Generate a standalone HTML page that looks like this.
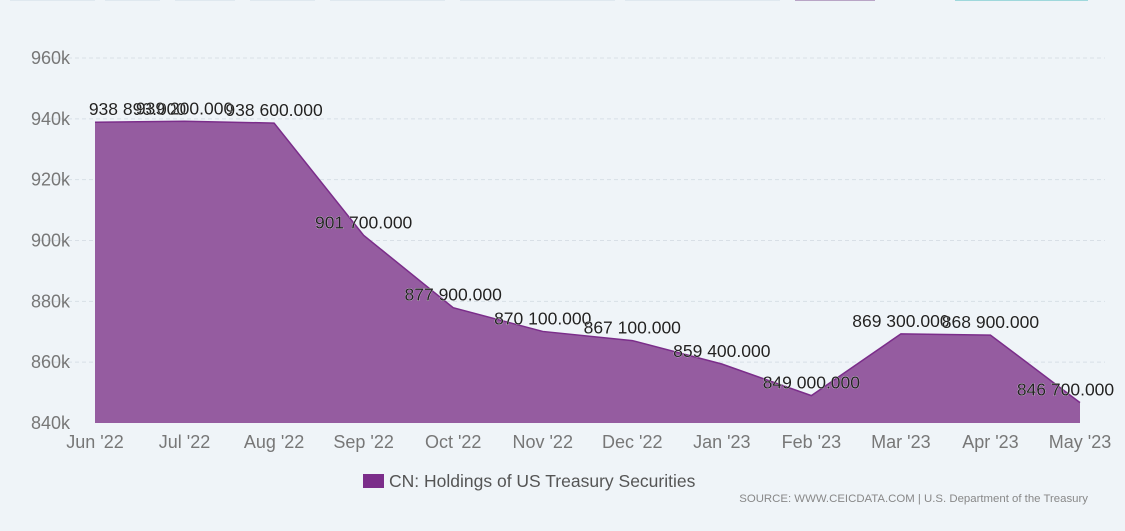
<!DOCTYPE html>
<html><head><meta charset="utf-8"><style>
body{margin:0;background:#eff4f8;}
svg{display:block;font-family:"Liberation Sans",sans-serif;}
</style></head><body>
<svg id="c" width="1125" height="531">
<g>
<rect x="10" y="-4" width="85" height="5" fill="#dfe8ef"/><rect x="105" y="-4" width="55" height="5" fill="#dfe8ef"/>
<rect x="175" y="-4" width="60" height="5" fill="#dfe8ef"/><rect x="250" y="-4" width="65" height="5" fill="#dfe8ef"/>
<rect x="330" y="-4" width="115" height="5" fill="#dfe8ef"/><rect x="460" y="-4" width="155" height="5" fill="#dfe8ef"/>
<rect x="625" y="-4" width="155" height="5" fill="#dfe8ef"/><rect x="795" y="-4" width="80" height="5" fill="#b9a5c6"/>
<rect x="955" y="-4" width="133" height="5" fill="#9fd8dc"/>
</g>
<g id="grid"></g><g id="area"></g><g id="labels"></g><g id="xaxis"></g>
<g>
<rect x="363" y="474" width="21" height="14" fill="#7b2d8a"/>
<text x="389" y="487" font-size="17.5" fill="#555">CN: Holdings of US Treasury Securities</text>
</g>
<text x="1088" y="502" font-size="11.4" fill="#888" text-anchor="end">SOURCE: WWW.CEICDATA.COM | U.S. Department of the Treasury</text>
</svg>
<script>
const categories=["Jun '22","Jul '22","Aug '22","Sep '22","Oct '22","Nov '22","Dec '22","Jan '23","Feb '23","Mar '23","Apr '23","May '23"];
const values=[938893,939200,938600,901700,877900,870100,867100,859400,849000,869300,868900,846700];
const valueLabels=["938 893.000","939 200.000","938 600.000","901 700.000","877 900.000","870 100.000","867 100.000","859 400.000","849 000.000","869 300.000","868 900.000","846 700.000"];
const yTicks=[840000,860000,880000,900000,920000,940000,960000];
const yTickLabels=["840k","860k","880k","900k","920k","940k","960k"];
const NS="http://www.w3.org/2000/svg";
const X=i=>95+i*(985/(categories.length-1));
const Y=v=>423-(v-840000)*(365/120000);
function mk(tag,attrs,parent,text){const e=document.createElementNS(NS,tag);for(const k in attrs)e.setAttribute(k,attrs[k]);if(text!=null)e.textContent=text;document.getElementById(parent).appendChild(e);return e;}
yTicks.forEach((t,i)=>{
  if(i>0){const l=mk('line',{x1:40,x2:1105,y1:Y(t),y2:Y(t),stroke:'#d8dfe6','stroke-dasharray':'4,3'},'grid');
  
  }
  const tx=mk('text',{x:70,y:Y(t)+6,'font-size':18,fill:'#777','text-anchor':'end'},'grid',yTickLabels[i]);
  
  
});
let d='M'+X(0)+','+Y(840000);
values.forEach((v,i)=>d+=' L'+X(i)+','+Y(v));
d+=' L'+X(values.length-1)+','+Y(840000)+' Z';
const a=mk('path',{d:d,fill:'#955ca0'},'area');


let ld='';values.forEach((v,i)=>ld+=(i?' L':'M')+X(i)+','+Y(v));
const ln=mk('path',{d:ld,fill:'none',stroke:'#7b2d8a','stroke-width':1.5},'area');


values.forEach((v,i)=>{
  let cx=X(i);const w=105;
  if(cx-w/2<85)cx=85+w/2;if(cx+w/2>1118)cx=1118-w/2;
  const t=mk('text',{x:cx,y:Y(v)-7,'font-size':17.5,fill:'#222','text-anchor':'middle',stroke:'#fff','stroke-width':0.4,'paint-order':'stroke'},'labels',valueLabels[i]);
  
  
});
categories.forEach((c,i)=>{
  const t=mk('text',{x:X(i),y:448,'font-size':18,fill:'#777','text-anchor':'middle'},'xaxis',c);
  
  
});
</script>
</body></html>
